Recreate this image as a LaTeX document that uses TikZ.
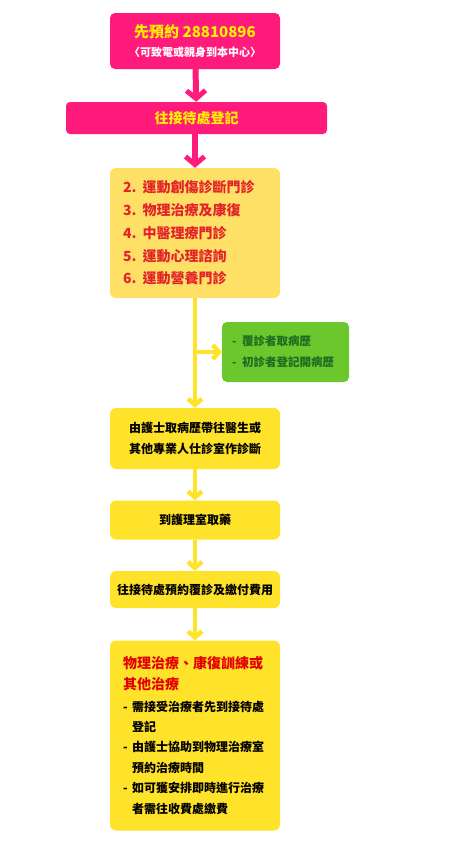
\documentclass[tikz,border=0pt]{standalone}
\usepackage{fontspec}
\setmainfont{Noto Sans CJK TC}
\usetikzlibrary{arrows.meta}
\definecolor{rosa}{HTML}{FF1B7B}
\definecolor{amarillo}{HTML}{FFE22A}
\definecolor{palido}{HTML}{FFE066}
\definecolor{limon}{HTML}{FFF000}
\definecolor{rojo}{HTML}{E3232B}
\definecolor{verde}{HTML}{6CC72D}
\definecolor{verdeosc}{HTML}{1E6B21}
\begin{document}
\begin{tikzpicture}[x=1pt,y=-1pt,font=\bfseries,
  pinkbox/.style={fill=rosa,rounded corners=5pt,inner sep=0pt,align=center},
  ybox/.style={fill=amarillo,rounded corners=6pt,minimum width=170pt,inner sep=0pt,align=center,
    font=\bfseries\fontsize{12}{21}\selectfont},
  listbox/.style={rounded corners=6pt,inner xsep=13pt,inner ysep=0pt,text width=144pt,align=left},
  pinkarrow/.style={draw=rosa,line width=6pt,-{Straight Barb[length=8pt,width=19pt,line width=5pt]}},
  yarrow/.style={draw=amarillo,line width=4pt,-{Straight Barb[length=6pt,width=14pt,line width=4.5pt]}}]
  \useasboundingbox (0,0) rectangle (461,841);
  % reserva
  \node[pinkbox,minimum width=170pt,minimum height=56pt] (booking) at (195,41)
    {\color{limon}\fontsize{15}{15}\selectfont 先預約 28810896\\[7pt]
     \color{white}\fontsize{11}{11}\selectfont 〈可致電或親身到本中心〉};
  % recepcion
  \node[pinkbox,rounded corners=4pt,minimum width=261pt,minimum height=32pt] (reception) at (196.5,118)
    {\color{limon}\fontsize{14}{14}\selectfont 往接待處登記};
  % consultas
  \node[listbox,fill=palido,minimum height=130pt,text=rojo,font=\bfseries\fontsize{14}{22.7}\selectfont] (clinics) at (195,233)
    {2.\hspace{0.45em}運動創傷診斷門診\\3.\hspace{0.45em}物理治療及康復\\4.\hspace{0.45em}中醫理療門診\\
     5.\hspace{0.45em}運動心理諮詢\\6.\hspace{0.45em}運動營養門診};
  % historial
  \node[fill=verde,rounded corners=5pt,minimum width=127pt,minimum height=60pt,inner xsep=10pt,inner ysep=0pt,
    text width=107pt,align=left,text=verdeosc,font=\bfseries\fontsize{11.5}{21}\selectfont] (records) at (285.5,352)
    {-\hspace{0.5em}覆診者取病歷\\-\hspace{0.5em}初診者登記開病歷};
  % pasos
  \node[ybox,minimum height=61pt] (doctor) at (195,438.5) {由護士取病歷帶往醫生或\\其他專業人仕診室作診斷};
  \node[ybox,minimum height=39pt] (medicine) at (195,520) {到護理室取藥};
  \node[ybox,minimum height=37pt] (followup) at (195,589.5) {往接待處預約覆診及繳付費用};
  % tratamiento
  \node[listbox,fill=amarillo,minimum height=190pt,font=\bfseries\fontsize{12}{20.4}\selectfont] (therapy) at (195,735.5)
    {{\color{red!90!black}\fontsize{14}{20.4}\selectfont 物理治療、康復訓練或\\其他治療}\\[1.5pt]
     \makebox[9pt][l]{-}需接受治療者先到接待處\\\hspace*{9pt}登記\\
     \makebox[9pt][l]{-}由護士協助到物理治療室\\\hspace*{9pt}預約治療時間\\
     \makebox[9pt][l]{-}如可獲安排即時進行治療\\\hspace*{9pt}者需往收費處繳費};
  % flechas
  \draw[pinkarrow] (booking) -- (reception);
  \draw[pinkarrow] (reception.south -| clinics) -- (clinics);
  \draw[yarrow] (clinics) -- (doctor);
  \coordinate (fork) at (clinics.south |- records.west);
  \draw[yarrow] (fork) -- (records.west);
  \draw[yarrow] (doctor) -- (medicine);
  \draw[yarrow] (medicine) -- (followup);
  \draw[yarrow] (followup) -- (therapy);
\end{tikzpicture}
\end{document}
